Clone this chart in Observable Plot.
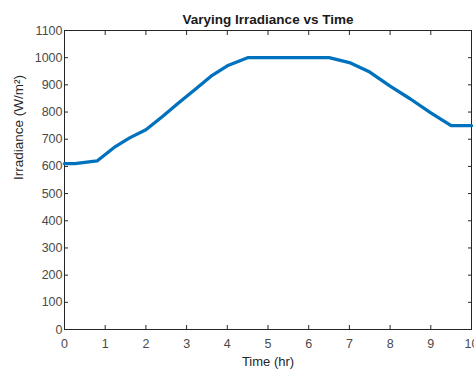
<!DOCTYPE html>
<html>
<head>
<meta charset="utf-8">
<script src="https://cdn.jsdelivr.net/npm/d3@7"></script>
<script src="https://cdn.jsdelivr.net/npm/@observablehq/plot@0.6"></script>
<style>
  html, body { margin: 0; padding: 0; background: #fff; }
  svg { display: block; }
</style>
</head>
<body>
<div id="chart"></div>
<script>
const time = [0, 0.25, 0.8, 1.25, 1.6, 2, 2.4, 2.8, 3.2, 3.6, 4, 4.5, 6.5, 7, 7.5, 8, 8.5, 9, 9.5, 10];
const irradiance = [610, 610, 620, 673, 705, 735, 783, 833, 882, 932, 970, 1000, 1000, 982, 947, 895, 848, 797, 750, 750];
const xTicks = [0, 1, 2, 3, 4, 5, 6, 7, 8, 9, 10];
const yTicks = [0, 100, 200, 300, 400, 500, 600, 700, 800, 900, 1000, 1100];
const title = "Varying Irradiance vs Time";
const xLabel = "Time (hr)";
const yLabel = "Irradiance (W/m²)";

const data = time.map((t, i) => ({t, v: irradiance[i]}));
const axisColor = "#262626";
const textColor = "#4a4a4a";
const font = "Liberation Sans, Arial, sans-serif";

const chart = Plot.plot({
  width: 474,
  height: 370,
  marginLeft: 64,
  marginRight: 3,
  marginTop: 30,
  marginBottom: 41,
  style: {fontFamily: font, fontSize: "12px", color: textColor, background: "#fff"},
  x: {domain: [0, 10]},
  y: {domain: [0, 1100]},
  marks: [
    Plot.frame({stroke: axisColor, strokeWidth: 1}),
    Plot.axisX({ticks: xTicks, tickSize: -4, tickPadding: 14, tickFormat: d3.format("d"), stroke: axisColor, fill: textColor,
      label: null, fontSize: 12.5}),
    Plot.text([xLabel], {frameAnchor: "bottom", dy: 36, fontSize: 13, fill: "#262626"}),
    Plot.axisX({anchor: "top", ticks: xTicks, tickSize: -4, tickFormat: () => "", label: null, stroke: axisColor}),
    Plot.axisY({ticks: yTicks, tickSize: -4, tickPadding: 6, tickFormat: d3.format("d"), stroke: axisColor, fill: textColor,
      label: null, fontSize: 12.5}),
    Plot.text([yLabel], {frameAnchor: "left", dx: -46, rotate: -90, fontSize: 13.5, fill: "#262626"}),
    Plot.axisY({anchor: "right", ticks: yTicks, tickSize: -4, tickFormat: () => "", label: null, stroke: axisColor}),
    Plot.line(data, {x: "t", y: "v", stroke: "#0072BD", strokeWidth: 3.3, strokeLinejoin: "round"}),
    Plot.text([title], {frameAnchor: "top", dy: -16, fontWeight: "bold", fontSize: 13.5, fill: "#1a1a1a"})
  ]
});
document.getElementById("chart").appendChild(chart);
</script>
</body>
</html>
